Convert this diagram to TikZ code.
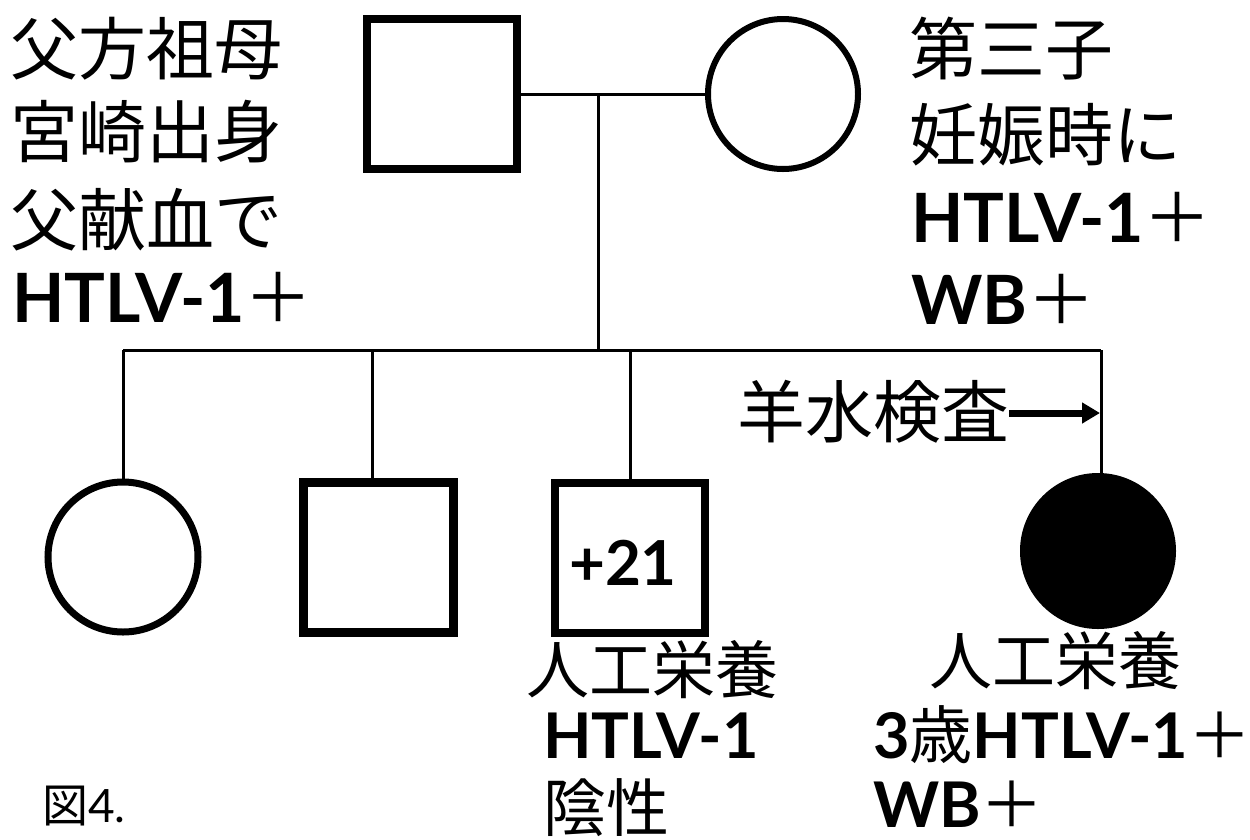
\documentclass[tikz,border=0pt]{standalone}
\usepackage{fontspec}
\setmainfont{Noto Sans CJK JP}
\newfontfamily\lat{Lato}
\usetikzlibrary{arrows.meta}
\tikzset{
  person/.style={draw=black, minimum size=150pt, inner sep=0pt},
  male/.style={person, rectangle, line width=8pt},
  female/.style={person, circle, line width=6pt},
  link/.style={draw=black, line width=3pt},
  big/.style={font=\fontsize{68}{80}\selectfont},
  small/.style={font=\fontsize{63}{70}\selectfont},
  txt/.style={anchor=base west, inner sep=0pt},
}
\newcommand{\bl}[1]{{\lat\bfseries #1}}
\begin{document}
\begin{tikzpicture}[x=1pt,y=-1pt]
\useasboundingbox (0,0) rectangle (1250,839);
% parents
\node[male] (fa) at (442,94) {};
\node[female] (mo) at (783,94) {};
\coordinate (m) at (598,94);
\coordinate (s) at (598,350);
\coordinate (sl) at (123,350);
\coordinate (sr) at (1101,350);
\draw[link] (fa.east) -- (mo.west);
\draw[link] (m) -- (s);
\draw[link] (sl) -- (sr);
% children
\node[female, line width=7pt] (c1) at (123,557) {};
\node[male, line width=9pt] (c2) at (378,557) {};
\node[male] (c3) at (630,558) {};
\node[female, fill=black] (c4) at (1098,551) {};
\coordinate (d2) at (372,350);
\coordinate (d4) at (1101,350);
\draw[link] (sl) -- (c1.north);
\draw[link] (d2) -- (d2 |- c2.north);
\draw[link] (c3.north |- sl) -- (c3.north);
\draw[link] (d4) -- (d4 |- c4.north);
\node[inner sep=0pt, font=\fontsize{62}{70}\selectfont] (t21) at (623,563) {\bl{+21}};
% left text
\node[txt, big] (l1) at (10,74) {父方祖母};
\node[txt, big] (l2) at (10,157) {宮崎出身};
\node[txt, big] (l3) at (10,245) {父献血で};
\node[txt, big] (l4) at (12,322) {\bl{HTLV-1}＋};
% right text
\node[txt, big] (r1) at (909,74) {第三子};
\node[txt, big] (r2) at (909,160) {妊娠時に};
\node[txt, big] (r3) at (911,242) {\bl{HTLV-1}＋};
\node[txt, big] (r4) at (911,324) {\bl{WB}＋};
% amniocentesis
\node[txt, big] (am) at (737,437) {羊水検査};
\coordinate (ae) at (1100,413);
\draw[line width=7pt, -{Triangle[length=18pt,width=20pt]}] (am.east |- ae) -- (ae);
% bottom text
\node[txt, small] (b1) at (526,693) {人工栄養};
\node[txt, small] (b2) at (543,758) {\bl{HTLV-1}};
\node[txt, small] (b3) at (543,831) {陰性};
\node[txt, small] (b4) at (929,684) {人工栄養};
\node[txt, small] (b5) at (873,758) {\bl{3}歳\bl{HTLV-1}＋};
\node[txt, small] (b6) at (873,827) {\bl{WB}＋};
\node[txt, font=\fontsize{46}{50}\selectfont] (fig) at (42,822) {図\lat 4.};
\end{tikzpicture}
\end{document}
